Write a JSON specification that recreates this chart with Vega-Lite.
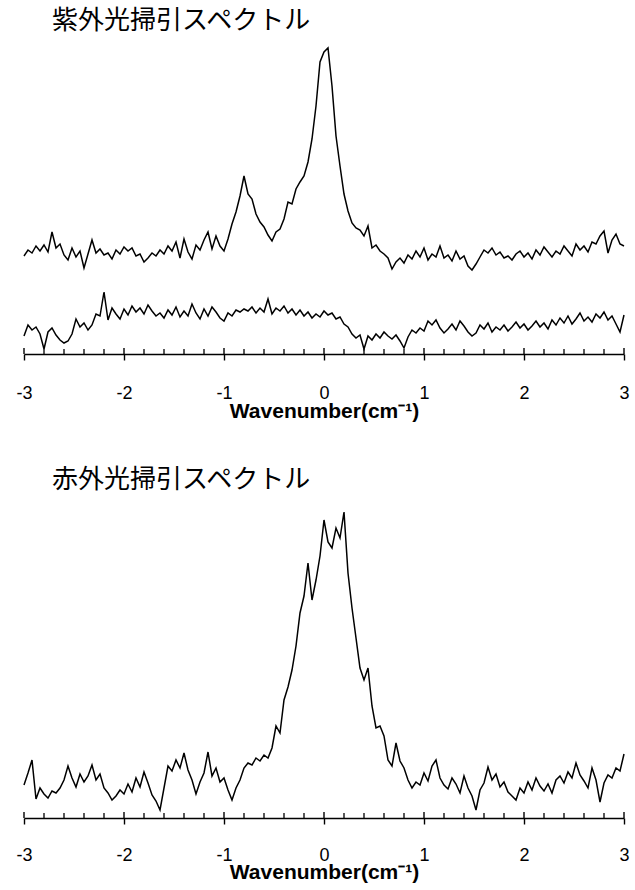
{
  "$schema": "https://vega.github.io/schema/vega-lite/v6.json",
  "background": "white",
  "padding": {"left": 15, "top": 8, "right": 8, "bottom": 2},
  "datasets": {
    "uv": [
      {"x": -3.00, "y": 98, "s": "a"}, {"x": -2.96, "y": 104, "s": "a"}, {"x": -2.92, "y": 101, "s": "a"}, {"x": -2.88, "y": 108, "s": "a"},
      {"x": -2.84, "y": 103, "s": "a"}, {"x": -2.80, "y": 109, "s": "a"}, {"x": -2.76, "y": 102, "s": "a"}, {"x": -2.72, "y": 122, "s": "a"},
      {"x": -2.68, "y": 106, "s": "a"}, {"x": -2.64, "y": 110, "s": "a"}, {"x": -2.60, "y": 99, "s": "a"}, {"x": -2.56, "y": 94, "s": "a"},
      {"x": -2.52, "y": 106, "s": "a"}, {"x": -2.48, "y": 97, "s": "a"}, {"x": -2.44, "y": 103, "s": "a"}, {"x": -2.40, "y": 86, "s": "a"},
      {"x": -2.36, "y": 100, "s": "a"}, {"x": -2.32, "y": 114, "s": "a"}, {"x": -2.28, "y": 101, "s": "a"}, {"x": -2.24, "y": 105, "s": "a"},
      {"x": -2.20, "y": 99, "s": "a"}, {"x": -2.16, "y": 101, "s": "a"}, {"x": -2.12, "y": 95, "s": "a"}, {"x": -2.08, "y": 104, "s": "a"},
      {"x": -2.04, "y": 100, "s": "a"}, {"x": -2.00, "y": 107, "s": "a"}, {"x": -1.96, "y": 103, "s": "a"}, {"x": -1.92, "y": 106, "s": "a"},
      {"x": -1.88, "y": 98, "s": "a"}, {"x": -1.84, "y": 100, "s": "a"}, {"x": -1.80, "y": 92, "s": "a"}, {"x": -1.76, "y": 96, "s": "a"},
      {"x": -1.72, "y": 101, "s": "a"}, {"x": -1.68, "y": 98, "s": "a"}, {"x": -1.64, "y": 104, "s": "a"}, {"x": -1.60, "y": 100, "s": "a"},
      {"x": -1.56, "y": 108, "s": "a"}, {"x": -1.52, "y": 103, "s": "a"}, {"x": -1.48, "y": 112, "s": "a"}, {"x": -1.44, "y": 96, "s": "a"},
      {"x": -1.40, "y": 115, "s": "a"}, {"x": -1.36, "y": 102, "s": "a"}, {"x": -1.32, "y": 95, "s": "a"}, {"x": -1.28, "y": 109, "s": "a"},
      {"x": -1.24, "y": 104, "s": "a"}, {"x": -1.20, "y": 114, "s": "a"}, {"x": -1.16, "y": 122, "s": "a"}, {"x": -1.12, "y": 105, "s": "a"},
      {"x": -1.08, "y": 118, "s": "a"}, {"x": -1.04, "y": 108, "s": "a"}, {"x": -1.00, "y": 103, "s": "a"}, {"x": -0.96, "y": 115, "s": "a"},
      {"x": -0.92, "y": 130, "s": "a"}, {"x": -0.88, "y": 142, "s": "a"}, {"x": -0.84, "y": 158, "s": "a"}, {"x": -0.80, "y": 178, "s": "a"},
      {"x": -0.76, "y": 160, "s": "a"}, {"x": -0.72, "y": 155, "s": "a"}, {"x": -0.68, "y": 140, "s": "a"}, {"x": -0.64, "y": 132, "s": "a"},
      {"x": -0.60, "y": 127, "s": "a"}, {"x": -0.56, "y": 119, "s": "a"}, {"x": -0.52, "y": 113, "s": "a"}, {"x": -0.48, "y": 122, "s": "a"},
      {"x": -0.44, "y": 125, "s": "a"}, {"x": -0.40, "y": 135, "s": "a"}, {"x": -0.36, "y": 152, "s": "a"}, {"x": -0.32, "y": 150, "s": "a"},
      {"x": -0.28, "y": 165, "s": "a"}, {"x": -0.24, "y": 172, "s": "a"}, {"x": -0.20, "y": 178, "s": "a"}, {"x": -0.16, "y": 192, "s": "a"},
      {"x": -0.12, "y": 215, "s": "a"}, {"x": -0.08, "y": 248, "s": "a"}, {"x": -0.04, "y": 292, "s": "a"}, {"x": 0.00, "y": 302, "s": "a"},
      {"x": 0.04, "y": 306, "s": "a"}, {"x": 0.08, "y": 268, "s": "a"}, {"x": 0.12, "y": 218, "s": "a"}, {"x": 0.16, "y": 188, "s": "a"},
      {"x": 0.20, "y": 160, "s": "a"}, {"x": 0.24, "y": 143, "s": "a"}, {"x": 0.28, "y": 131, "s": "a"}, {"x": 0.32, "y": 126, "s": "a"},
      {"x": 0.36, "y": 124, "s": "a"}, {"x": 0.40, "y": 118, "s": "a"}, {"x": 0.44, "y": 128, "s": "a"}, {"x": 0.48, "y": 106, "s": "a"},
      {"x": 0.52, "y": 109, "s": "a"}, {"x": 0.56, "y": 103, "s": "a"}, {"x": 0.60, "y": 100, "s": "a"}, {"x": 0.64, "y": 96, "s": "a"},
      {"x": 0.68, "y": 85, "s": "a"}, {"x": 0.72, "y": 92, "s": "a"}, {"x": 0.76, "y": 96, "s": "a"}, {"x": 0.80, "y": 91, "s": "a"},
      {"x": 0.84, "y": 99, "s": "a"}, {"x": 0.88, "y": 95, "s": "a"}, {"x": 0.92, "y": 103, "s": "a"}, {"x": 0.96, "y": 97, "s": "a"},
      {"x": 1.00, "y": 106, "s": "a"}, {"x": 1.04, "y": 94, "s": "a"}, {"x": 1.08, "y": 100, "s": "a"}, {"x": 1.12, "y": 97, "s": "a"},
      {"x": 1.16, "y": 108, "s": "a"}, {"x": 1.20, "y": 96, "s": "a"}, {"x": 1.24, "y": 99, "s": "a"}, {"x": 1.28, "y": 93, "s": "a"},
      {"x": 1.32, "y": 103, "s": "a"}, {"x": 1.36, "y": 95, "s": "a"}, {"x": 1.40, "y": 98, "s": "a"}, {"x": 1.44, "y": 88, "s": "a"},
      {"x": 1.48, "y": 84, "s": "a"}, {"x": 1.52, "y": 90, "s": "a"}, {"x": 1.56, "y": 97, "s": "a"}, {"x": 1.60, "y": 104, "s": "a"},
      {"x": 1.64, "y": 101, "s": "a"}, {"x": 1.68, "y": 106, "s": "a"}, {"x": 1.72, "y": 99, "s": "a"}, {"x": 1.76, "y": 102, "s": "a"},
      {"x": 1.80, "y": 96, "s": "a"}, {"x": 1.84, "y": 98, "s": "a"}, {"x": 1.88, "y": 94, "s": "a"}, {"x": 1.92, "y": 100, "s": "a"},
      {"x": 1.96, "y": 103, "s": "a"}, {"x": 2.00, "y": 97, "s": "a"}, {"x": 2.04, "y": 101, "s": "a"}, {"x": 2.08, "y": 95, "s": "a"},
      {"x": 2.12, "y": 104, "s": "a"}, {"x": 2.16, "y": 99, "s": "a"}, {"x": 2.20, "y": 107, "s": "a"}, {"x": 2.24, "y": 102, "s": "a"},
      {"x": 2.28, "y": 97, "s": "a"}, {"x": 2.32, "y": 103, "s": "a"}, {"x": 2.36, "y": 100, "s": "a"}, {"x": 2.40, "y": 108, "s": "a"},
      {"x": 2.44, "y": 103, "s": "a"}, {"x": 2.48, "y": 98, "s": "a"}, {"x": 2.52, "y": 110, "s": "a"}, {"x": 2.56, "y": 104, "s": "a"},
      {"x": 2.60, "y": 108, "s": "a"}, {"x": 2.64, "y": 102, "s": "a"}, {"x": 2.68, "y": 112, "s": "a"}, {"x": 2.72, "y": 110, "s": "a"},
      {"x": 2.76, "y": 118, "s": "a"}, {"x": 2.80, "y": 123, "s": "a"}, {"x": 2.84, "y": 101, "s": "a"}, {"x": 2.88, "y": 114, "s": "a"},
      {"x": 2.92, "y": 120, "s": "a"}, {"x": 2.96, "y": 110, "s": "a"}, {"x": 3.00, "y": 108, "s": "a"},
      {"x": -3.00, "y": 18, "s": "b"}, {"x": -2.96, "y": 29, "s": "b"}, {"x": -2.92, "y": 24, "s": "b"}, {"x": -2.88, "y": 27, "s": "b"},
      {"x": -2.84, "y": 20, "s": "b"}, {"x": -2.80, "y": 5, "s": "b"}, {"x": -2.76, "y": 22, "s": "b"}, {"x": -2.72, "y": 26, "s": "b"},
      {"x": -2.68, "y": 19, "s": "b"}, {"x": -2.64, "y": 14, "s": "b"}, {"x": -2.60, "y": 11, "s": "b"}, {"x": -2.56, "y": 13, "s": "b"},
      {"x": -2.52, "y": 20, "s": "b"}, {"x": -2.48, "y": 35, "s": "b"}, {"x": -2.44, "y": 27, "s": "b"}, {"x": -2.40, "y": 31, "s": "b"},
      {"x": -2.36, "y": 24, "s": "b"}, {"x": -2.32, "y": 29, "s": "b"}, {"x": -2.28, "y": 40, "s": "b"}, {"x": -2.24, "y": 38, "s": "b"},
      {"x": -2.20, "y": 62, "s": "b"}, {"x": -2.16, "y": 34, "s": "b"}, {"x": -2.12, "y": 46, "s": "b"}, {"x": -2.08, "y": 40, "s": "b"},
      {"x": -2.04, "y": 35, "s": "b"}, {"x": -2.00, "y": 45, "s": "b"}, {"x": -1.96, "y": 39, "s": "b"}, {"x": -1.92, "y": 48, "s": "b"},
      {"x": -1.88, "y": 42, "s": "b"}, {"x": -1.84, "y": 46, "s": "b"}, {"x": -1.80, "y": 40, "s": "b"}, {"x": -1.76, "y": 49, "s": "b"},
      {"x": -1.72, "y": 43, "s": "b"}, {"x": -1.68, "y": 38, "s": "b"}, {"x": -1.64, "y": 41, "s": "b"}, {"x": -1.60, "y": 36, "s": "b"},
      {"x": -1.56, "y": 44, "s": "b"}, {"x": -1.52, "y": 39, "s": "b"}, {"x": -1.48, "y": 47, "s": "b"}, {"x": -1.44, "y": 37, "s": "b"},
      {"x": -1.40, "y": 43, "s": "b"}, {"x": -1.36, "y": 38, "s": "b"}, {"x": -1.32, "y": 50, "s": "b"}, {"x": -1.28, "y": 41, "s": "b"},
      {"x": -1.24, "y": 35, "s": "b"}, {"x": -1.20, "y": 45, "s": "b"}, {"x": -1.16, "y": 38, "s": "b"}, {"x": -1.12, "y": 47, "s": "b"},
      {"x": -1.08, "y": 42, "s": "b"}, {"x": -1.04, "y": 36, "s": "b"}, {"x": -1.00, "y": 33, "s": "b"}, {"x": -0.96, "y": 41, "s": "b"},
      {"x": -0.92, "y": 38, "s": "b"}, {"x": -0.88, "y": 44, "s": "b"}, {"x": -0.84, "y": 42, "s": "b"}, {"x": -0.80, "y": 45, "s": "b"},
      {"x": -0.76, "y": 43, "s": "b"}, {"x": -0.72, "y": 47, "s": "b"}, {"x": -0.68, "y": 41, "s": "b"}, {"x": -0.64, "y": 46, "s": "b"},
      {"x": -0.60, "y": 42, "s": "b"}, {"x": -0.56, "y": 55, "s": "b"}, {"x": -0.52, "y": 40, "s": "b"}, {"x": -0.48, "y": 46, "s": "b"},
      {"x": -0.44, "y": 43, "s": "b"}, {"x": -0.40, "y": 48, "s": "b"}, {"x": -0.36, "y": 41, "s": "b"}, {"x": -0.32, "y": 45, "s": "b"},
      {"x": -0.28, "y": 39, "s": "b"}, {"x": -0.24, "y": 44, "s": "b"}, {"x": -0.20, "y": 38, "s": "b"}, {"x": -0.16, "y": 42, "s": "b"},
      {"x": -0.12, "y": 36, "s": "b"}, {"x": -0.08, "y": 40, "s": "b"}, {"x": -0.04, "y": 37, "s": "b"}, {"x": 0.00, "y": 43, "s": "b"},
      {"x": 0.04, "y": 39, "s": "b"}, {"x": 0.08, "y": 41, "s": "b"}, {"x": 0.12, "y": 35, "s": "b"}, {"x": 0.16, "y": 37, "s": "b"},
      {"x": 0.20, "y": 30, "s": "b"}, {"x": 0.24, "y": 27, "s": "b"}, {"x": 0.28, "y": 20, "s": "b"}, {"x": 0.32, "y": 16, "s": "b"},
      {"x": 0.36, "y": 19, "s": "b"}, {"x": 0.40, "y": 5, "s": "b"}, {"x": 0.44, "y": 18, "s": "b"}, {"x": 0.48, "y": 14, "s": "b"},
      {"x": 0.52, "y": 20, "s": "b"}, {"x": 0.56, "y": 16, "s": "b"}, {"x": 0.60, "y": 22, "s": "b"}, {"x": 0.64, "y": 18, "s": "b"},
      {"x": 0.68, "y": 15, "s": "b"}, {"x": 0.72, "y": 19, "s": "b"}, {"x": 0.76, "y": 13, "s": "b"}, {"x": 0.80, "y": 6, "s": "b"},
      {"x": 0.84, "y": 17, "s": "b"}, {"x": 0.88, "y": 24, "s": "b"}, {"x": 0.92, "y": 21, "s": "b"}, {"x": 0.96, "y": 26, "s": "b"},
      {"x": 1.00, "y": 23, "s": "b"}, {"x": 1.04, "y": 33, "s": "b"}, {"x": 1.08, "y": 29, "s": "b"}, {"x": 1.12, "y": 34, "s": "b"},
      {"x": 1.16, "y": 26, "s": "b"}, {"x": 1.20, "y": 21, "s": "b"}, {"x": 1.24, "y": 25, "s": "b"}, {"x": 1.28, "y": 30, "s": "b"},
      {"x": 1.32, "y": 24, "s": "b"}, {"x": 1.36, "y": 33, "s": "b"}, {"x": 1.40, "y": 28, "s": "b"}, {"x": 1.44, "y": 22, "s": "b"},
      {"x": 1.48, "y": 18, "s": "b"}, {"x": 1.52, "y": 21, "s": "b"}, {"x": 1.56, "y": 29, "s": "b"}, {"x": 1.60, "y": 25, "s": "b"},
      {"x": 1.64, "y": 31, "s": "b"}, {"x": 1.68, "y": 22, "s": "b"}, {"x": 1.72, "y": 27, "s": "b"}, {"x": 1.76, "y": 24, "s": "b"},
      {"x": 1.80, "y": 29, "s": "b"}, {"x": 1.84, "y": 23, "s": "b"}, {"x": 1.88, "y": 27, "s": "b"}, {"x": 1.92, "y": 32, "s": "b"},
      {"x": 1.96, "y": 26, "s": "b"}, {"x": 2.00, "y": 30, "s": "b"}, {"x": 2.04, "y": 24, "s": "b"}, {"x": 2.08, "y": 28, "s": "b"},
      {"x": 2.12, "y": 33, "s": "b"}, {"x": 2.16, "y": 27, "s": "b"}, {"x": 2.20, "y": 31, "s": "b"}, {"x": 2.24, "y": 25, "s": "b"},
      {"x": 2.28, "y": 34, "s": "b"}, {"x": 2.32, "y": 29, "s": "b"}, {"x": 2.36, "y": 36, "s": "b"}, {"x": 2.40, "y": 31, "s": "b"},
      {"x": 2.44, "y": 38, "s": "b"}, {"x": 2.48, "y": 30, "s": "b"}, {"x": 2.52, "y": 35, "s": "b"}, {"x": 2.56, "y": 41, "s": "b"},
      {"x": 2.60, "y": 33, "s": "b"}, {"x": 2.64, "y": 37, "s": "b"}, {"x": 2.68, "y": 32, "s": "b"}, {"x": 2.72, "y": 40, "s": "b"},
      {"x": 2.76, "y": 36, "s": "b"}, {"x": 2.80, "y": 42, "s": "b"}, {"x": 2.84, "y": 34, "s": "b"}, {"x": 2.88, "y": 38, "s": "b"},
      {"x": 2.92, "y": 30, "s": "b"}, {"x": 2.96, "y": 22, "s": "b"}, {"x": 3.00, "y": 39, "s": "b"}
    ],
    "ir": [
      {"x": -3.00, "y": 33}, {"x": -2.96, "y": 45}, {"x": -2.92, "y": 58}, {"x": -2.88, "y": 19},
      {"x": -2.84, "y": 30}, {"x": -2.80, "y": 24}, {"x": -2.76, "y": 20}, {"x": -2.72, "y": 27},
      {"x": -2.68, "y": 25}, {"x": -2.64, "y": 30}, {"x": -2.60, "y": 38}, {"x": -2.56, "y": 52},
      {"x": -2.52, "y": 40}, {"x": -2.48, "y": 31}, {"x": -2.44, "y": 44}, {"x": -2.40, "y": 36},
      {"x": -2.36, "y": 42}, {"x": -2.32, "y": 53}, {"x": -2.28, "y": 38}, {"x": -2.24, "y": 44},
      {"x": -2.20, "y": 30}, {"x": -2.16, "y": 25}, {"x": -2.12, "y": 18}, {"x": -2.08, "y": 22},
      {"x": -2.04, "y": 28}, {"x": -2.00, "y": 24}, {"x": -1.96, "y": 34}, {"x": -1.92, "y": 26},
      {"x": -1.88, "y": 40}, {"x": -1.84, "y": 31}, {"x": -1.80, "y": 46}, {"x": -1.76, "y": 35},
      {"x": -1.72, "y": 23}, {"x": -1.68, "y": 17}, {"x": -1.64, "y": 8}, {"x": -1.60, "y": 30},
      {"x": -1.56, "y": 52}, {"x": -1.52, "y": 47}, {"x": -1.48, "y": 58}, {"x": -1.44, "y": 50},
      {"x": -1.40, "y": 65}, {"x": -1.36, "y": 48}, {"x": -1.32, "y": 38}, {"x": -1.28, "y": 24},
      {"x": -1.24, "y": 36}, {"x": -1.20, "y": 45}, {"x": -1.16, "y": 66}, {"x": -1.12, "y": 42},
      {"x": -1.08, "y": 50}, {"x": -1.04, "y": 36}, {"x": -1.00, "y": 40}, {"x": -0.96, "y": 28},
      {"x": -0.92, "y": 18}, {"x": -0.88, "y": 30}, {"x": -0.84, "y": 38}, {"x": -0.80, "y": 50},
      {"x": -0.76, "y": 55}, {"x": -0.72, "y": 53}, {"x": -0.68, "y": 60}, {"x": -0.64, "y": 57},
      {"x": -0.60, "y": 63}, {"x": -0.56, "y": 60}, {"x": -0.52, "y": 70}, {"x": -0.48, "y": 92},
      {"x": -0.44, "y": 85}, {"x": -0.40, "y": 118}, {"x": -0.36, "y": 131}, {"x": -0.32, "y": 148},
      {"x": -0.28, "y": 172}, {"x": -0.24, "y": 205}, {"x": -0.20, "y": 222}, {"x": -0.16, "y": 255},
      {"x": -0.12, "y": 218}, {"x": -0.08, "y": 238}, {"x": -0.04, "y": 262}, {"x": 0.00, "y": 298},
      {"x": 0.04, "y": 276}, {"x": 0.08, "y": 270}, {"x": 0.12, "y": 290}, {"x": 0.16, "y": 280},
      {"x": 0.20, "y": 306}, {"x": 0.24, "y": 245}, {"x": 0.28, "y": 210}, {"x": 0.32, "y": 180},
      {"x": 0.36, "y": 150}, {"x": 0.40, "y": 138}, {"x": 0.44, "y": 150}, {"x": 0.48, "y": 112},
      {"x": 0.52, "y": 90}, {"x": 0.56, "y": 92}, {"x": 0.60, "y": 82}, {"x": 0.64, "y": 58},
      {"x": 0.68, "y": 52}, {"x": 0.72, "y": 75}, {"x": 0.76, "y": 57}, {"x": 0.80, "y": 50},
      {"x": 0.84, "y": 38}, {"x": 0.88, "y": 30}, {"x": 0.92, "y": 36}, {"x": 0.96, "y": 33},
      {"x": 1.00, "y": 45}, {"x": 1.04, "y": 37}, {"x": 1.08, "y": 52}, {"x": 1.12, "y": 58},
      {"x": 1.16, "y": 40}, {"x": 1.20, "y": 33}, {"x": 1.24, "y": 29}, {"x": 1.28, "y": 40},
      {"x": 1.32, "y": 34}, {"x": 1.36, "y": 25}, {"x": 1.40, "y": 42}, {"x": 1.44, "y": 30},
      {"x": 1.48, "y": 22}, {"x": 1.52, "y": 8}, {"x": 1.56, "y": 28}, {"x": 1.60, "y": 35},
      {"x": 1.64, "y": 51}, {"x": 1.68, "y": 38}, {"x": 1.72, "y": 44}, {"x": 1.76, "y": 31},
      {"x": 1.80, "y": 36}, {"x": 1.84, "y": 26}, {"x": 1.88, "y": 22}, {"x": 1.92, "y": 18},
      {"x": 1.96, "y": 30}, {"x": 2.00, "y": 25}, {"x": 2.04, "y": 36}, {"x": 2.08, "y": 28},
      {"x": 2.12, "y": 40}, {"x": 2.16, "y": 32}, {"x": 2.20, "y": 27}, {"x": 2.24, "y": 34},
      {"x": 2.28, "y": 25}, {"x": 2.32, "y": 38}, {"x": 2.36, "y": 42}, {"x": 2.40, "y": 35},
      {"x": 2.44, "y": 46}, {"x": 2.48, "y": 40}, {"x": 2.52, "y": 55}, {"x": 2.56, "y": 43},
      {"x": 2.60, "y": 37}, {"x": 2.64, "y": 30}, {"x": 2.68, "y": 50}, {"x": 2.72, "y": 38},
      {"x": 2.76, "y": 16}, {"x": 2.80, "y": 35}, {"x": 2.84, "y": 43}, {"x": 2.88, "y": 40},
      {"x": 2.92, "y": 50}, {"x": 2.96, "y": 47}, {"x": 3.00, "y": 64}
    ],
    "major": [
      {"x": -3}, {"x": -2}, {"x": -1}, {"x": 0}, {"x": 1}, {"x": 2}, {"x": 3}
    ],
    "minor": [
      {"x": -2.8}, {"x": -2.6}, {"x": -2.4}, {"x": -2.2}, {"x": -1.8}, {"x": -1.6}, {"x": -1.4}, {"x": -1.2},
      {"x": -0.8}, {"x": -0.6}, {"x": -0.4}, {"x": -0.2}, {"x": 0.2}, {"x": 0.4}, {"x": 0.6}, {"x": 0.8},
      {"x": 1.2}, {"x": 1.4}, {"x": 1.6}, {"x": 1.8}, {"x": 2.2}, {"x": 2.4}, {"x": 2.6}, {"x": 2.8}
    ]
  },
  "spacing": 46,
  "vconcat": [
    {
      "title": {"text": "紫外光掃引スペクトル", "offset": 6},
      "width": 600,
      "height": 314,
      "encoding": {
        "x": {
          "field": "x", "type": "quantitative",
          "scale": {"domain": [-3, 3], "nice": false, "zero": false},
          "axis": {
            "title": "Wavenumber(cm⁻¹)",
            "values": [-3, -2, -1, 0, 1, 2, 3],
            "labelExpr": "toString(datum.value)",
            "tickSize": 6,
            "labelOverlap": false,
            "labelFlush": false,
            "labelPadding": 24,
            "labelFontSize": 18,
            "titleFontSize": 21,
            "titlePadding": -2
          }
        }
      },
      "layer": [
        {
          "data": {"name": "uv"},
          "mark": {"type": "line", "color": "black", "strokeWidth": 1.5, "strokeJoin": "miter"},
          "encoding": {
            "y": {"field": "y", "type": "quantitative", "scale": {"domain": [0, 314], "nice": false}, "axis": null},
            "detail": {"field": "s", "type": "nominal"}
          }
        },
        {
          "data": {"name": "major"},
          "mark": {"type": "rule", "color": "black", "strokeWidth": 1.4},
          "encoding": {"y": {"datum": 0}, "y2": {"datum": 6}}
        },
        {
          "data": {"name": "minor"},
          "mark": {"type": "rule", "color": "black", "strokeWidth": 1.3},
          "encoding": {"y": {"datum": 0}, "y2": {"datum": 5}}
        }
      ]
    },
    {
      "title": {"text": "赤外光掃引スペクトル", "offset": 11},
      "width": 600,
      "height": 314,
      "encoding": {
        "x": {
          "field": "x", "type": "quantitative",
          "scale": {"domain": [-3, 3], "nice": false, "zero": false},
          "axis": {
            "title": "Wavenumber(cm⁻¹)",
            "values": [-3, -2, -1, 0, 1, 2, 3],
            "labelExpr": "toString(datum.value)",
            "tickSize": 6,
            "labelOverlap": false,
            "labelFlush": false,
            "labelPadding": 22,
            "labelFontSize": 18,
            "titleFontSize": 21,
            "titlePadding": -3
          }
        }
      },
      "layer": [
        {
          "data": {"name": "ir"},
          "mark": {"type": "line", "color": "black", "strokeWidth": 1.5, "strokeJoin": "miter"},
          "encoding": {
            "y": {"field": "y", "type": "quantitative", "scale": {"domain": [0, 314], "nice": false}, "axis": null}
          }
        },
        {
          "data": {"name": "major"},
          "mark": {"type": "rule", "color": "black", "strokeWidth": 1.4},
          "encoding": {"y": {"datum": 0}, "y2": {"datum": 6}}
        },
        {
          "data": {"name": "minor"},
          "mark": {"type": "rule", "color": "black", "strokeWidth": 1.3},
          "encoding": {"y": {"datum": 0}, "y2": {"datum": 5}}
        }
      ]
    }
  ],
  "resolve": {"scale": {"x": "independent", "y": "independent"}},
  "config": {
    "view": {"stroke": null},
    "font": "Liberation Sans",
    "title": {
      "anchor": "start",
      "frame": "group",
      "font": "Noto Sans CJK JP",
      "fontSize": 26,
      "fontWeight": "normal",
      "color": "black",
      "dx": 28
    },
    "axis": {
      "grid": false,
      "domainColor": "black",
      "domainWidth": 1.5,
      "tickColor": "black",
      "tickWidth": 1.4,
      "labelFont": "Liberation Sans",
      "labelColor": "black",
      "titleFont": "Liberation Sans",
      "titleFontWeight": "bold",
      "titleColor": "black"
    }
  }
}
